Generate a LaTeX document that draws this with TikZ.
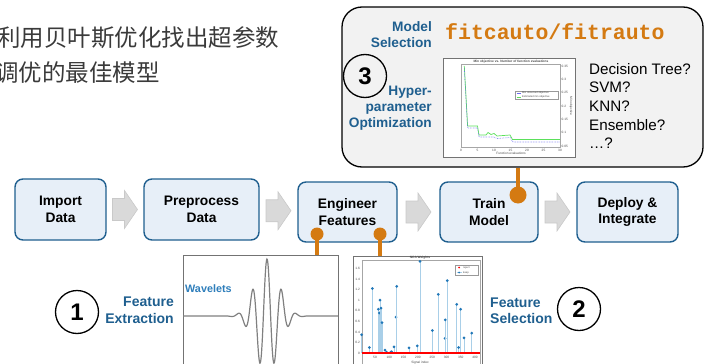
\documentclass[tikz,border=0pt]{standalone}
\usepackage{fontspec}
\setmainfont{Liberation Sans}
\newfontfamily\cjkfont{Noto Sans CJK SC}
\newfontfamily\codefont{Liberation Mono}
\usetikzlibrary{calc}

\definecolor{stageblue}{HTML}{1F5F8F}
\definecolor{stagefill}{HTML}{E7EFF8}
\definecolor{labelblue}{HTML}{1F5F8F}
\definecolor{waveblue}{HTML}{2E7EBB}
\definecolor{accent}{HTML}{D47A12}
\definecolor{panelgray}{HTML}{F2F2F2}
\definecolor{chevron}{HTML}{D9D9D9}
\definecolor{chevronedge}{HTML}{C9C9C9}
\definecolor{inktext}{HTML}{3A3A3A}
\definecolor{stemblue}{HTML}{A9CFE8}
\definecolor{dotblue}{HTML}{2077B8}
\definecolor{mingreen}{HTML}{5BE05B}
\definecolor{minblue}{HTML}{6A6AF0}

% gray chevron centred on a coordinate
\newcommand\flowchevron[1]{%
  \filldraw[fill=chevron, draw=chevronedge, line width=0.6pt]
    ($(#1)+(-12.5,-11)$) -- ($(#1)+(-0.5,-11)$) -- ($(#1)+(-0.5,-19)$)
    -- ($(#1)+(12.5,0)$) -- ($(#1)+(-0.5,19)$) -- ($(#1)+(-0.5,11)$)
    -- ($(#1)+(-12.5,11)$) -- cycle;}

\begin{document}
\begin{tikzpicture}[x=1pt,y=-1pt,
  stage/.style={draw=stageblue, line width=1.4pt, fill=stagefill,
    rounded corners=8pt, align=center, inner sep=0pt,
    font=\bfseries\fontsize{13.8}{16.5}\selectfont},
  bluelabel/.style={text=labelblue, inner sep=0pt,
    font=\bfseries\fontsize{13.7}{16}\selectfont},
  stepcircle/.style={circle, draw=black, line width=1.3pt, minimum size=43pt,
    inner sep=0pt, font=\bfseries\fontsize{24}{24}\selectfont},
  plotframe/.style={draw=black!55, line width=0.8pt, fill=white, inner sep=0pt},
  conn/.style={draw=accent, line width=3.6pt},
  tiny/.style={inner sep=0pt, text=black!70, font=\fontsize{3.2}{3.6}\selectfont},
  stem/.style={draw=stemblue, line width=0.6pt},
  ]
\useasboundingbox (0,0) rectangle (715,364);
\clip (0,0) rectangle (715,364);

% ---- caption text
\node[anchor=west, inner sep=0pt, text=inktext,
  font=\cjkfont\fontsize{23.5}{23.5}\selectfont] (cap1) at (-3,38) {利用贝叶斯优化找出超参数};
\node[anchor=west, inner sep=0pt, text=inktext,
  font=\cjkfont\fontsize{23.5}{23.5}\selectfont] (cap2) at (-5,73) {调优的最佳模型};

% ---- model selection panel
\node[draw=black, line width=1.3pt, fill=panelgray, rounded corners=20pt,
  minimum width=361pt, minimum height=160pt, inner sep=0pt] (panel) at (522.5,87) {};
\node[bluelabel, anchor=east, align=right] (modsel) at (432,35) {Model\\Selection};
\node[anchor=west, inner sep=0pt, text=accent,
  font=\codefont\bfseries\fontsize{21.5}{21.5}\selectfont] (fitfn) at (445,32) {fitcauto/fitrauto};
\node[stepcircle] (three) at (365,76) {3};
\node[bluelabel, anchor=east, align=right] (hyper) at (432,108) {Hyper-\\parameter\\Optimization};
\node[anchor=west, inner sep=0pt, align=left,
  font=\fontsize{15.2}{18.7}\selectfont] (models) at (589,106)
  {Decision Tree?\\SVM?\\KNN?\\Ensemble?\\\ldots?};

% ---- convergence plot
\node[plotframe, minimum width=132pt, minimum height=99pt, anchor=north west] (optplot) at (443,58) {};
\draw[black!35, line width=0.4pt] (461,64) rectangle (560,147);
\node[tiny, font=\bfseries\fontsize{3.2}{3.6}\selectfont] (opttitle) at (511,61.5) {Min objective vs. Number of function evaluations};
\node[tiny] (optxlab) at (511,153.5) {Function evaluations};
\node[tiny, rotate=-90] (optylab) at (571,106) {Min objective};
\foreach \v/\yy in {0.35/66,0.3/79.3,0.25/92.7,0.2/106,0.15/119.3,0.1/132.7,0.05/146}
  \node[tiny, anchor=west] at (561.5,\yy) {\v};
\foreach \n in {0,5,...,30}
  \node[tiny] at ({461+3.3*\n},150) {\n};
\draw[mingreen, line width=0.7pt] (464.3,66) -- (467.6,126) -- (477.5,126) -- (479,135)
  -- (486,135) -- (488,132.5) -- (491,134.5) -- (494,133.5) -- (497,136) -- (510,135)
  -- (512.5,139.5) -- (560,139.5);
\draw[minblue, line width=0.6pt, densely dotted] (464.3,68) -- (467.6,128) -- (477.5,128)
  -- (479,137) -- (494,137) -- (497,138.5) -- (510,137.5) -- (513,142) -- (560,142);
\draw[black!40, line width=0.3pt, fill=white] (515,91) rectangle (558,99);
\draw[minblue, line width=0.6pt] (516.5,93.2) -- (521,93.2);
\draw[mingreen, line width=0.6pt] (516.5,96.8) -- (521,96.8);
\node[tiny, anchor=west, font=\fontsize{2.6}{3}\selectfont] at (522,93.2) {Min observed objective};
\node[tiny, anchor=west, font=\fontsize{2.6}{3}\selectfont] at (522,96.8) {Estimated min objective};

% ---- workflow stages
\node[stage, minimum width=91pt, minimum height=61pt] (import) at (60.5,209.5) {Import\\Data};
\node[stage, minimum width=115pt, minimum height=61pt] (prep) at (201.5,209.5) {Preprocess\\Data};
\node[stage, minimum width=99pt, minimum height=60pt] (eng) at (347.5,212) {Engineer\\Features};
\node[stage, minimum width=98pt, minimum height=60pt] (train) at (489,212) {Train\\Model};
\node[stage, minimum width=101pt, minimum height=60pt] (deploy) at (627.5,212) {Deploy \&\\Integrate};

\coordinate (ch1) at ($(import.east)!0.5!(prep.west)$);
\coordinate (ch2) at ($(prep.east)!0.5!(eng.west)$);
\coordinate (ch3) at ($(eng.east)!0.5!(train.west)$);
\coordinate (ch4) at ($(train.east)!0.5!(deploy.west)$);
\flowchevron{ch1}
\flowchevron{ch2}
\flowchevron{ch3}
\flowchevron{ch4}

% ---- wavelet panel
\node[plotframe, minimum width=155pt, minimum height=130pt, anchor=north west] (wavebox) at (183,255) {};
\draw[black!50, line width=1.2pt] plot[domain=-84:71, samples=400, smooth]
  ({\x+267}, {316-57*cos(24.828*\x)*exp(-\x*\x/268)});
\node[anchor=west, inner sep=0pt, text=waveblue,
  font=\bfseries\fontsize{10.8}{12}\selectfont] (wavetxt) at (185,289) {Wavelets};

% ---- NCA weights panel
\node[plotframe, minimum width=129pt, minimum height=130pt, anchor=north west] (ncabox) at (353,256) {};
\draw[black!35, line width=0.4pt] (361.7,260) -- (361.7,380) (361.7,260) -- (480,260) -- (480,380);
\node[tiny, font=\bfseries\fontsize{3.2}{3.6}\selectfont] (ncatitle) at (420,258) {NCA Weights};
\foreach \v in {0,0.2,0.4,0.6,0.8,1,1.2,1.4,1.6}
  \node[tiny, anchor=east] at (360,{353.3-53.1*\v}) {\v};
\foreach \i in {50,100,...,400}
  \node[tiny] at ({360.7+0.286*\i},357.5) {\i};
\node[tiny] (ncaxlab) at (420,362.5) {Signal index};
\foreach \px/\v in {361.7/0.35, 369.3/0.11, 372.3/1.22, 378.3/0.83, 379.3/0.76, 380/1.0,
    381/0.85, 382/0.58, 385/0.06, 386.7/0.02, 390.7/0.02, 391.7/0.03, 394/0.12,
    396/0.68, 396.7/1.26, 409/0.1, 417.3/0.14, 420/1.73, 432.3/0.43, 438.3/1.11,
    445/0.28, 445.3/0.63, 447.3/1.37, 456.7/0.92, 458.7/0.11, 460.7/0.83, 464/0.29,
    471.7/0.38}
{
  \draw[stem] (\px,353.3) -- (\px,{353.3-53.1*\v});
  \fill[dotblue] (\px,{353.3-53.1*\v}) circle (1.5);
}
\draw[red, line width=2pt] (361.7,353.3) -- (480,353.3);
\draw[black!40, line width=0.3pt, fill=white] (455,265) rectangle (478,275);
\fill[red] (459,267.5) circle (1);
\draw[stem] (456.5,272.5) -- (461.5,272.5);
\fill[dotblue] (459,272.5) circle (1);
\node[tiny, anchor=west, font=\fontsize{2.6}{3}\selectfont] at (463,267.5) {reject};
\node[tiny, anchor=west, font=\fontsize{2.6}{3}\selectfont] at (463,272.5) {keep};

% ---- feature engineering labels
\node[stepcircle] (one) at (77,312) {1};
\node[bluelabel, anchor=east, align=right, font=\bfseries\fontsize{14}{16.5}\selectfont] (fextract) at (174,310) {Feature\\Extraction};
\node[bluelabel, anchor=west, align=left, font=\bfseries\fontsize{14}{16.5}\selectfont] (fselect) at (490,310.5) {Feature\\Selection};
\node[stepcircle] (two) at (579,309) {2};

% ---- orange links
\coordinate (tdot) at (518,195);
\coordinate (edot1) at (317,234);
\coordinate (edot2) at (380,234);
\draw[conn] (panel.south -| tdot) -- (tdot);
\fill[accent] (tdot) circle (8.5);
\draw[conn] (edot1) -- (wavebox.north -| edot1);
\fill[accent] (edot1) circle (6.5);
\draw[conn] (edot2) -- (ncabox.north -| edot2);
\fill[accent] (edot2) circle (6.5);
\end{tikzpicture}
\end{document}
